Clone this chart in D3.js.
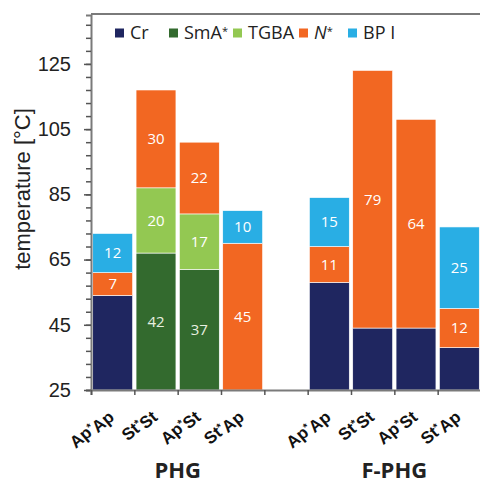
<!DOCTYPE html>
<html>
<head>
<meta charset="utf-8">
<script src="https://cdn.jsdelivr.net/npm/d3@7"></script>
<style>
  body { margin: 0; background: #fff; }
  svg { display: block; }
</style>
</head>
<body>
<svg width="480" height="489"></svg>
<script>
// phase names and colours
var phases = ["Cr", "SmA", "TGBA", "N", "BP"];
var phaseColors = ["#1f2660", "#336a2e", "#93c852", "#f26722", "#29aee4"];

// categories, with an empty slot between the two groups
var cats = ["PHG-ApAp", "PHG-StSt", "PHG-ApSt", "PHG-StAp", "gap",
            "F-ApAp", "F-StSt", "F-ApSt", "F-StAp"];
var catLabels = [["Ap", "Ap"], ["St", "St"], ["Ap", "St"], ["St", "Ap"], null,
                 ["Ap", "Ap"], ["St", "St"], ["Ap", "St"], ["St", "Ap"]];

// crystal melting point (top of Cr block, 0 = none shown)
var crTop = [54, 0, 0, 0, 0, 58, 44, 44, 38];
// phase ranges (°C) stacked above the crystal
var smaRange  = [0, 42, 37, 0, 0, 0, 0, 0, 0];
var tgbaRange = [0, 20, 17, 0, 0, 0, 0, 0, 0];
var nRange    = [7, 30, 22, 45, 0, 11, 79, 64, 12];
var bpRange   = [12, 0, 0, 10, 0, 15, 0, 0, 25];

var groups = ["PHG", "F-PHG"];
var groupSpan = [[0, 3], [5, 8]];

var yTicks = [25, 45, 65, 85, 105, 125];

var svg = d3.select("svg"),
    width = +svg.attr("width"),
    height = +svg.attr("height");

var plotL = 91, plotR = 481, plotT = 15, plotB = 390;

var y = d3.scaleLinear().domain([25, 140]).range([plotB, plotT]);
var x = d3.scaleBand().domain(cats).range([plotL, plotR]).paddingInner(0.08).paddingOuter(0.04);
var xb = d3.scaleLinear().domain([0, cats.length]).range([plotL, plotR]);

// build stacks
var segs = [];
cats.forEach(function(c, i) {
    var base = 25;
    if (crTop[i] > 0) {
        segs.push({cat: c, p: 0, lo: 25, hi: crTop[i], label: null});
        base = crTop[i];
    }
    [smaRange, tgbaRange, nRange, bpRange].forEach(function(arr, k) {
        if (arr[i] > 0) {
            segs.push({cat: c, p: k + 1, lo: base, hi: base + arr[i], label: arr[i]});
            base += arr[i];
        }
    });
});

// frame top line
svg.append("line")
    .attr("x1", plotL).attr("x2", plotR)
    .attr("y1", plotT - 1).attr("y2", plotT - 1)
    .style("stroke", "#7a7a7a").style("stroke-width", 2);

// bars
svg.append("g").selectAll("rect")
    .data(segs)
    .enter().append("rect")
    .attr("x", (d) => x(d.cat))
    .attr("width", x.bandwidth())
    .attr("y", (d) => y(d.hi))
    .attr("height", (d) => y(d.lo) - y(d.hi))
    .attr("fill", (d) => phaseColors[d.p])
    .style("stroke", "#fff")
    .style("stroke-width", 0.6);

svg.append("g").selectAll("text")
    .data(segs.filter((d) => d.label !== null))
    .enter().append("text")
    .attr("x", (d) => x(d.cat) + x.bandwidth() / 2)
    .attr("y", (d) => (y(d.lo) + y(d.hi)) / 2)
    .attr("dy", "0.36em")
    .attr("text-anchor", "middle")
    .style("font-family", "'Open Sans', sans-serif")
    .style("font-size", "15px")
    .style("fill", (d) => d.p == 1 ? "#e8f0e0" : "#fff")
    .text((d) => d.label);

// y axis
var yAxis = svg.append("g")
    .attr("transform", "translate(" + plotL + ",0)")
    .call(d3.axisLeft(y).tickValues(d3.range(25, 141, 4)).tickSize(5).tickFormat(""));
yAxis.selectAll("line").style("stroke", "#555").style("stroke-width", 1.5);
yAxis.select(".domain").style("stroke", "#7a7a7a").style("stroke-width", 2);

var yMajor = svg.append("g")
    .attr("transform", "translate(" + plotL + ",0)")
    .call(d3.axisLeft(y).tickValues(yTicks).tickSize(7).tickPadding(13));
yMajor.select(".domain").remove();
yMajor.selectAll("line").style("stroke", "#555").style("stroke-width", 1.5);
yMajor.selectAll("text")
    .style("font-family", "'Liberation Sans', Arial, sans-serif")
    .style("font-size", "20px")
    .style("fill", "#222");

svg.append("text")
    .attr("transform", "translate(30,189) rotate(-90)")
    .attr("text-anchor", "middle")
    .style("font-family", "'Liberation Sans', Arial, sans-serif")
    .style("font-size", "22px")
    .style("fill", "#222")
    .text("temperature [°C]");

// x axis with ticks at the band edges
var xAxis = svg.append("g")
    .attr("transform", "translate(0," + plotB + ")")
    .call(d3.axisBottom(xb).tickValues(d3.range(0, cats.length + 1)).tickSize(5).tickFormat(""));
xAxis.select(".domain").style("stroke", "#7a7a7a").style("stroke-width", 2);
xAxis.selectAll("line").style("stroke", "#555").style("stroke-width", 1.5);

var xl = svg.append("g").selectAll("text")
    .data(cats.map((c, i) => ({cat: c, lab: catLabels[i]})).filter((d) => d.lab))
    .enter().append("text")
    .attr("transform", (d) => "translate(" + (x(d.cat) + x.bandwidth() / 2 + 1) + "," + (plotB + 27) + ") rotate(-40)")
    .attr("text-anchor", "end")
    .style("font-family", "'Liberation Sans', Arial, sans-serif")
    .style("font-size", "17px")
    .style("font-weight", "bold")
    .style("fill", "#111");
xl.append("tspan").text((d) => d.lab[0]);
xl.append("tspan").attr("dy", "-0.4em").style("font-size", "11px").text("*");
xl.append("tspan").attr("dy", "0.4em").text((d) => d.lab[1]);

// group labels
svg.append("g").selectAll("text")
    .data(groups)
    .enter().append("text")
    .attr("x", (d, i) => (xb(groupSpan[i][0]) + xb(groupSpan[i][1] + 1)) / 2)
    .attr("y", 478)
    .attr("text-anchor", "middle")
    .style("font-family", "'Open Sans', sans-serif")
    .style("font-size", "22px")
    .style("font-weight", "bold")
    .style("fill", "#222")
    .text((d) => d);

// legend
var legendX = [115, 169, 233, 299, 348];
var leg = svg.append("g").selectAll("g")
    .data(phases)
    .enter().append("g")
    .attr("transform", (d, i) => "translate(" + legendX[i] + ",33)");
leg.append("rect")
    .attr("x", 0).attr("y", -4.5)
    .attr("width", 9).attr("height", 9)
    .attr("fill", (d, i) => phaseColors[i]);
var lt = leg.append("text")
    .attr("x", 15)
    .attr("dy", "0.36em")
    .style("font-family", "'Open Sans', sans-serif")
    .style("font-size", "18px")
    .style("fill", "#222");
lt.filter((d) => d == "Cr").text("Cr");
lt.filter((d) => d == "SmA").call(function(t) {
    t.append("tspan").text("SmA");
    t.append("tspan").attr("dy", "-0.45em").style("font-size", "11px").text("*");
});
lt.filter((d) => d == "TGBA").text("TGBA");
lt.filter((d) => d == "N").call(function(t) {
    t.append("tspan").style("font-style", "italic").text("N");
    t.append("tspan").attr("dy", "-0.45em").style("font-size", "11px").text("*");
});
lt.filter((d) => d == "BP").text("BP I");
</script>
</body>
</html>
